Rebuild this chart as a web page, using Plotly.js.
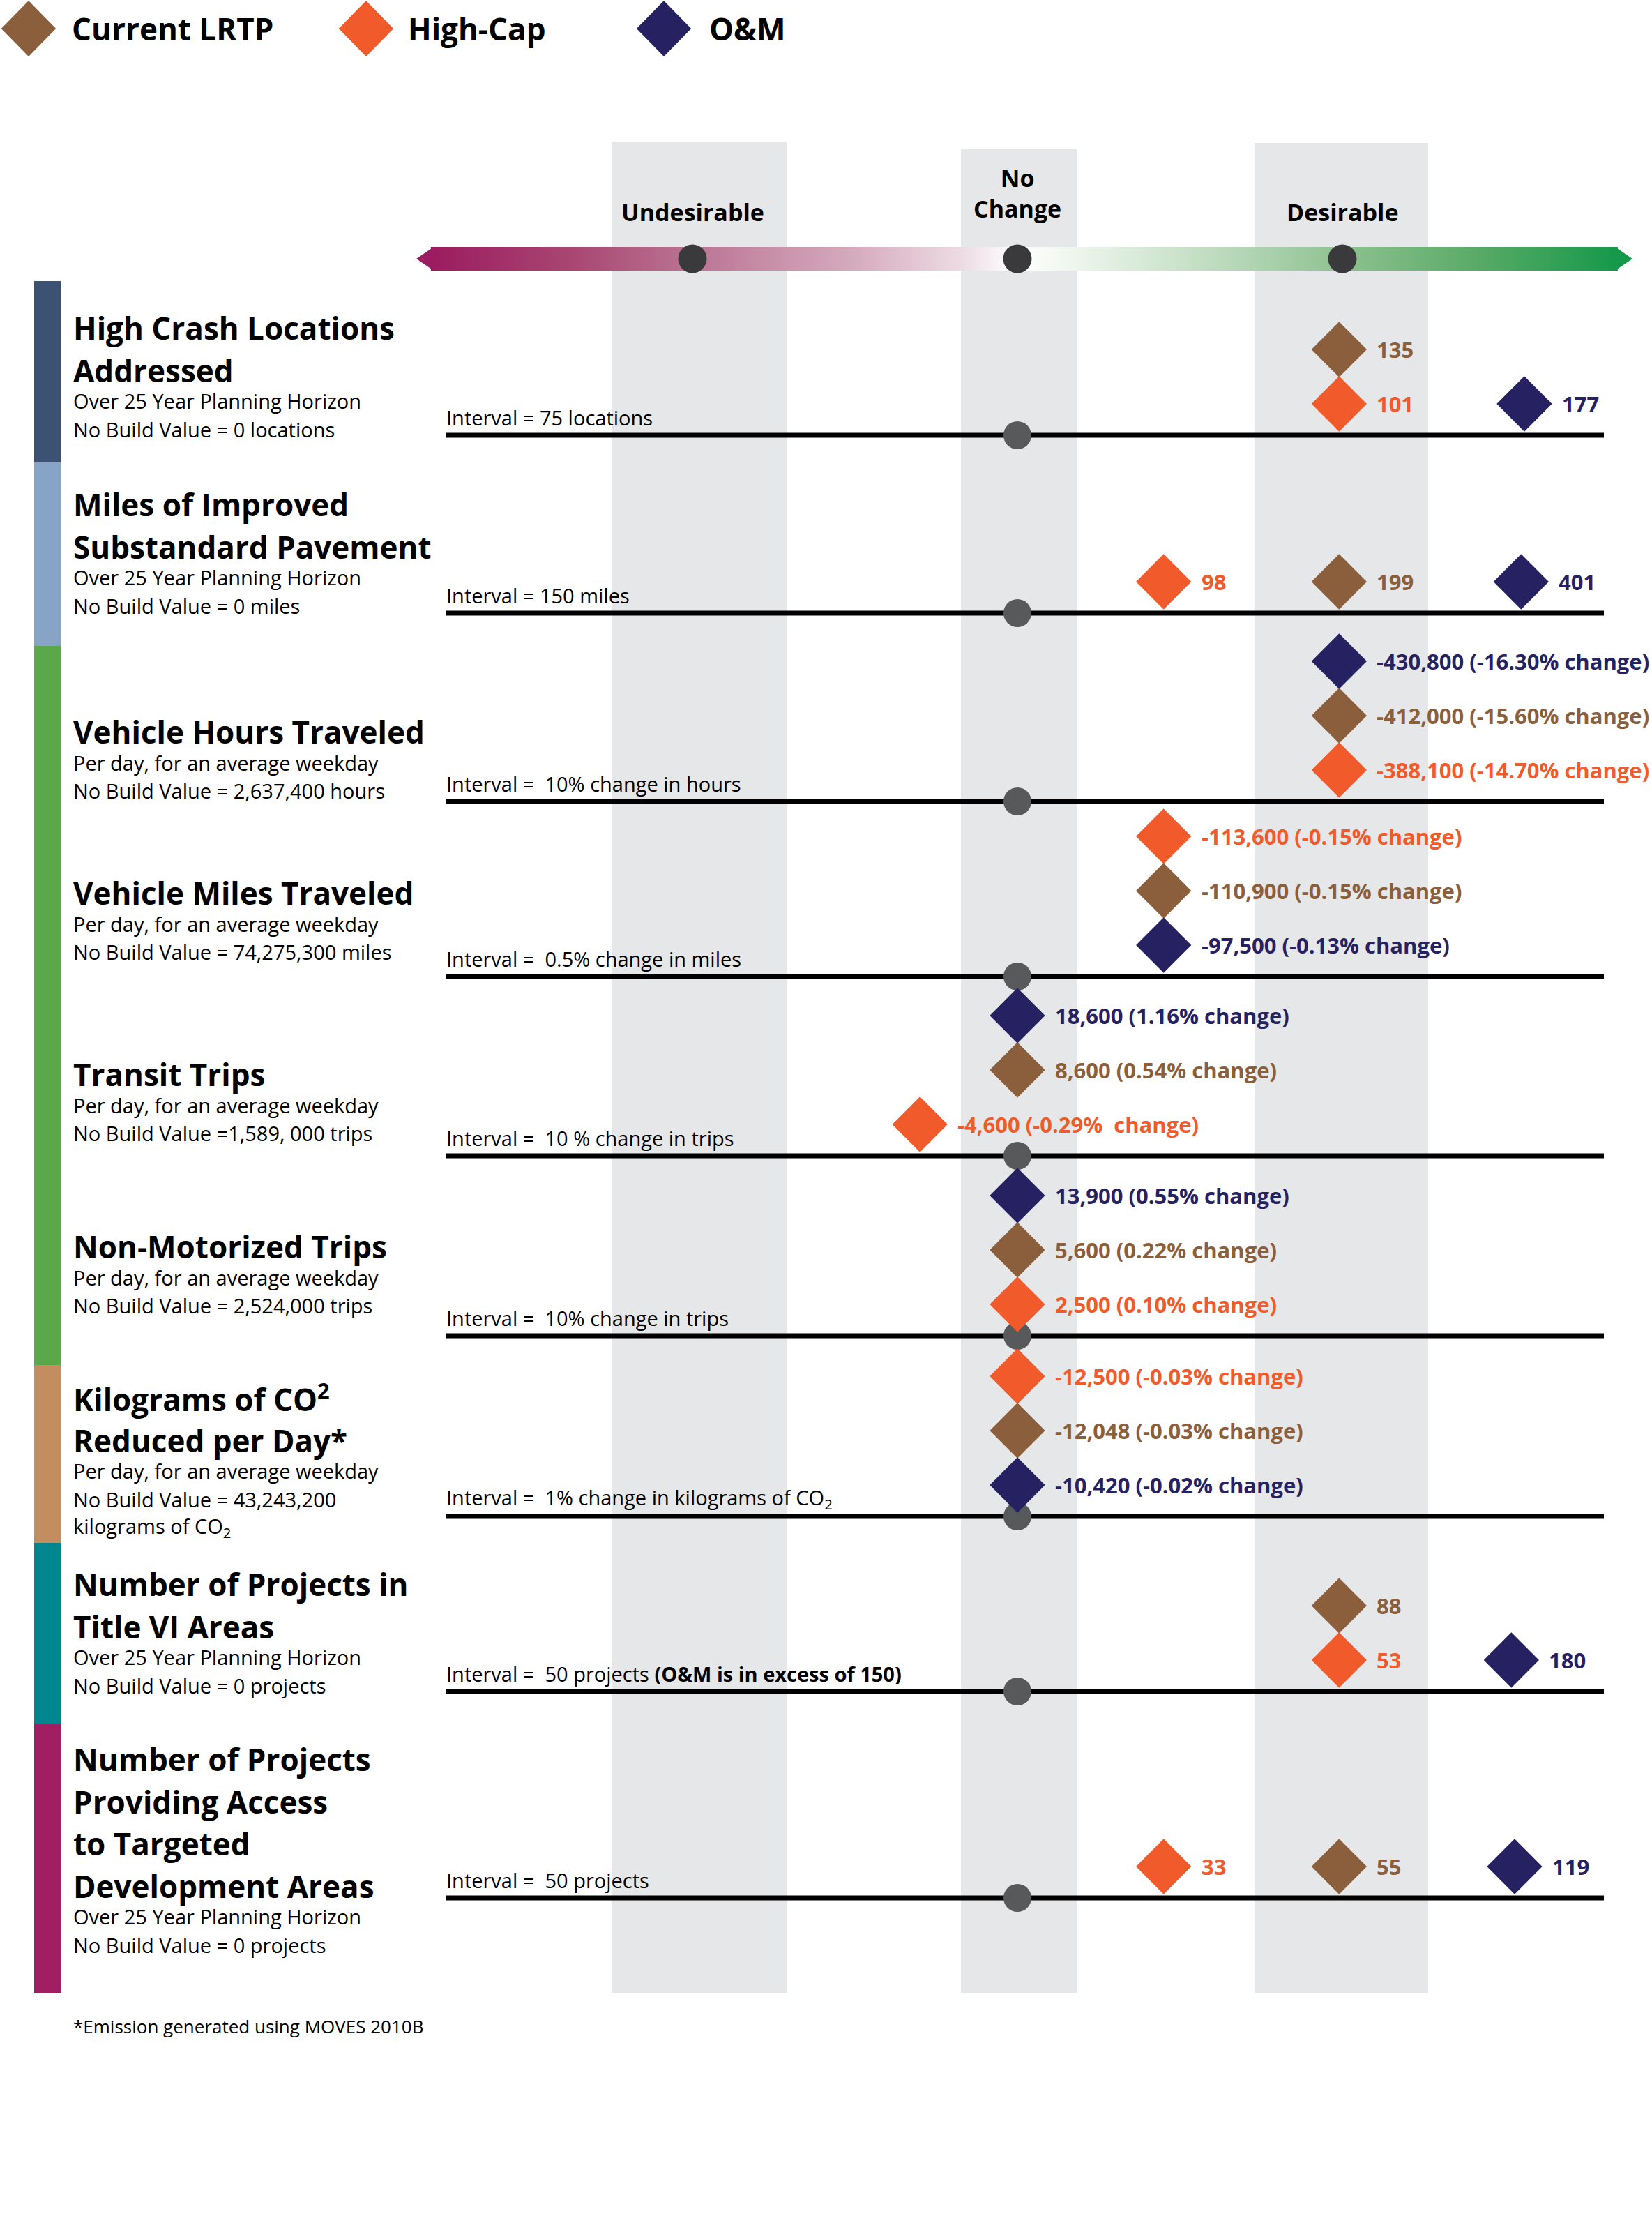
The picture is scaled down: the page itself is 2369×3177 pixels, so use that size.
<!DOCTYPE html>
<html><head><meta charset="utf-8">
<script src="https://cdn.plot.ly/plotly-3.0.1.min.js"></script>
<style>html,body{margin:0;padding:0;background:#fff}#chart{width:2369px;height:3177px}</style>
</head><body><div id="chart"></div>
<script>
// ---------------- DATA ----------------
const seriesNames = ["Current LRTP", "High-Cap", "O&amp;M"];
const categoryTitles = [
  ["High Crash Locations", "Addressed"],
  ["Miles of Improved", "Substandard Pavement"],
  ["Vehicle Hours Traveled"],
  ["Vehicle Miles Traveled"],
  ["Transit Trips"],
  ["Non-Motorized Trips"],
  ["Kilograms of CO<sup>2</sup>", "Reduced per Day*"],
  ["Number of Projects in", "Title VI Areas"],
  ["Number of Projects", "Providing Access", "to Targeted", "Development Areas"]
];
const categoryNotes = [
  ["Over 25 Year Planning Horizon", "No Build Value = 0 locations"],
  ["Over 25 Year Planning Horizon", "No Build Value = 0 miles"],
  ["Per day, for an average weekday", "No Build Value = 2,637,400 hours"],
  ["Per day, for an average weekday", "No Build Value = 74,275,300 miles"],
  ["Per day, for an average weekday", "No Build Value =1,589, 000 trips"],
  ["Per day, for an average weekday", "No Build Value = 2,524,000 trips"],
  ["Per day, for an average weekday", "No Build Value = 43,243,200", "kilograms of CO<sub>2</sub>"],
  ["Over 25 Year Planning Horizon", "No Build Value = 0 projects"],
  ["Over 25 Year Planning Horizon", "No Build Value = 0 projects"]
];
const intervalLabels = [
  "Interval = 75 locations",
  "Interval = 150 miles",
  "Interval =  10% change in hours",
  "Interval =  0.5% change in miles",
  "Interval =  10 % change in trips",
  "Interval =  10% change in trips",
  "Interval =  1% change in kilograms of CO<sub>2</sub>",
  "Interval =  50 projects <b>(O&amp;M is in excess of 150)</b>",
  "Interval =  50 projects"
];
const scaleLabels = ["Undesirable", "No<br>Change", "Desirable"];
const scaleTicks = [-1, 0, 1];
const noBuildScale = [0, 0, 0, 0, 0, 0, 0, 0, 0];

const lrtpValues = ["135", "199", "-412,000 (-15.60% change)", "-110,900 (-0.15% change)", "8,600 (0.54% change)", "5,600 (0.22% change)", "-12,048 (-0.03% change)", "88", "55"];
const highCapValues = ["101", "98", "-388,100 (-14.70% change)", "-113,600 (-0.15% change)", "-4,600 (-0.29%  change)", "2,500 (0.10% change)", "-12,500 (-0.03% change)", "53", "33"];
const omValues = ["177", "401", "-430,800 (-16.30% change)", "-97,500 (-0.13% change)", "18,600 (1.16% change)", "13,900 (0.55% change)", "-10,420 (-0.02% change)", "180", "119"];

// position on the Undesirable(-1) / No Change(0) / Desirable(+1) scale, as drawn
const lrtpScale = [0.99, 0.99, 0.99, 0.45, 0.0, 0.0, 0.0, 0.99, 0.99];
const highCapScale = [0.99, 0.45, 0.99, 0.45, -0.30, 0.0, 0.0, 0.99, 0.45];
const omScale = [1.56, 1.55, 0.99, 0.45, 0.0, 0.0, 0.0, 1.52, 1.53];

// stacking order of the diamonds in each row (0 = nearest the line)
const lrtpStack = [1, 0, 1, 1, 1, 1, 1, 1, 0];
const highCapStack = [0, 0, 0, 2, 0, 0, 2, 0, 0];
const omStack = [0, 0, 2, 0, 2, 2, 0, 0, 0];

// ---------------- LAYOUT CONSTANTS ----------------
const W = 2369, H = 3177;
const X0 = 1459, UNIT = 466;               // pixel of "No Change" and width of one scale step
const px2u = p => (p - X0) / UNIT;
const P = p => p / W;                      // pixel -> paper x
const FONT = "Open Sans, Noto Sans, sans-serif";
const colors = ["#8B5E3C", "#F15A2B", "#262262"];
const rowLineY = [624, 879, 1149, 1400, 1657, 1915, 2174, 2425, 2721];
const titleTopY = [470, 723, 1049, 1280, 1540, 1787, 2004, 2271, 2522];
const levelBase = 45, levelStep = 78;
const yFor = (r, l) => rowLineY[r] - levelBase - levelStep * l;

const shapes = [];
const annotations = [];

// gray scale columns
[[877, 1128, 203], [1378, 1544, 213], [1799, 2048, 205]].forEach(c => {
  shapes.push({type: "rect", layer: "below", xref: "paper", yref: "y", x0: P(c[0]), x1: P(c[1]), y0: c[2], y1: 2857, fillcolor: "#E6E7E8", line: {width: 0}});
});
// left colored category bars
[[403, 663, "#3B5273"], [663, 926, "#87A3C5"], [926, 1957, "#5BA84B"], [1957, 2212, "#C38D5F"], [2212, 2472, "#00868F"], [2472, 2857, "#A01F62"]].forEach(b => {
  shapes.push({type: "rect", layer: "below", xref: "paper", yref: "y", x0: P(49), x1: P(87), y0: b[0], y1: b[1], fillcolor: b[2], line: {width: 0}});
});
// row baselines
rowLineY.forEach(y => {
  shapes.push({type: "line", layer: "below", xref: "paper", yref: "y", x0: P(640), x1: P(2300), y0: y, y1: y, line: {color: "#000", width: 7}});
});
function triPath(pts){return "M" + pts.map(p => P(p[0]) + "," + p[1]).join(" L") + " Z";}
// arrow heads
shapes.push({type: "path", layer: "above", xref: "paper", yref: "y", path: triPath([[597, 371], [622, 354], [622, 388]]), fillcolor: "#9B1C60", line: {width: 0}});
shapes.push({type: "path", layer: "above", xref: "paper", yref: "y", path: triPath([[2316, 354], [2341, 371], [2316, 388]]), fillcolor: "#16994A", line: {width: 0}});

// legend
const legendX = [[41, 101], [525, 583], [952, 1015]];
seriesNames.forEach((n, i) => {
  const cx = legendX[i][0], cy = 41, r = 40;
  shapes.push({type: "path", xref: "paper", yref: "y", path: triPath([[cx, cy - r], [cx + r * 0.98, cy], [cx, cy + r], [cx - r * 0.98, cy]]), fillcolor: colors[i], line: {width: 0}});
  annotations.push({xref: "paper", yref: "y", x: P(legendX[i][1]), y: cy, xanchor: "left", yanchor: "middle", showarrow: false, text: n, font: {family: FONT, size: 44, weight: 700, color: "#000"}});
});

// scale labels
annotations.push({xref: "x", yref: "y", x: scaleTicks[0], y: 304, showarrow: false, text: scaleLabels[0], font: {family: FONT, size: 34, weight: 700, color: "#000"}});
annotations.push({xref: "x", yref: "y", x: scaleTicks[1], y: 277, showarrow: false, text: scaleLabels[1], font: {family: FONT, size: 34, weight: 700, color: "#000"}});
annotations.push({xref: "x", yref: "y", x: scaleTicks[2], y: 304, showarrow: false, text: scaleLabels[2], font: {family: FONT, size: 34, weight: 700, color: "#000"}});

// category titles and notes
categoryTitles.forEach((lines, r) => {
  let y = titleTopY[r];
  lines.forEach((t, i) => {
    y = titleTopY[r] + 60.5 * i;
    annotations.push({xref: "paper", yref: "y", x: P(103), y: y, xanchor: "left", yanchor: "middle", showarrow: false, text: t, font: {family: FONT, size: 44, weight: 700, color: "#000"}});
  });
  categoryNotes[r].forEach((t, j) => {
    annotations.push({xref: "paper", yref: "y", x: P(103), y: y + 44 + 40.5 * j, xanchor: "left", yanchor: "middle", showarrow: false, text: t, font: {family: FONT, size: 29, color: "#000"}});
  });
  annotations.push({xref: "paper", yref: "y", x: P(638), y: rowLineY[r] - 26, xanchor: "left", yanchor: "middle", showarrow: false, text: intervalLabels[r], font: {family: FONT, size: 29, color: "#000"}});
});
// footnote
annotations.push({xref: "paper", yref: "y", x: P(103), y: 2905, xanchor: "left", yanchor: "middle", showarrow: false, text: "*Emission generated using MOVES 2010B", font: {family: FONT, size: 26, color: "#000"}});

// ---------------- TRACES ----------------
const traces = [];
// gradient arrow body
const gx = [], gz = [];
const N = 400, gL = px2u(620), gR = px2u(2318);
for (let i = 0; i < N; i++) { gx.push(gL + (gR - gL) * i / (N - 1)); gz.push(i / (N - 1)); }
traces.push({type: "heatmap", x: gx, y: [362.5, 379.5], z: [gz, gz], zmin: 0, zmax: 1, showscale: false, hoverinfo: "skip",
  colorscale: [[0, "#9B1C60"], [0.12, "#A94772"], [0.22, "#BB7494"], [0.36, "#D6ADBF"], [0.45, "#EEDDE5"], [0.493, "#FFFFFF"], [0.56, "#E7F2E7"], [0.66, "#BEDCBF"], [0.77, "#8EC190"], [0.88, "#5AAB67"], [1, "#16994A"]]});
// scale ticks on the arrow
traces.push({type: "scatter", mode: "markers", x: scaleTicks, y: scaleTicks.map(() => 371), marker: {symbol: "circle", size: 41, color: "#3A3A3C"}, hoverinfo: "skip", showlegend: false});
// no-build markers on each row line
traces.push({type: "scatter", mode: "markers", x: noBuildScale, y: rowLineY, marker: {symbol: "circle", size: 40, color: "#58595B"}, hoverinfo: "skip", showlegend: false});

const series = [
  {name: seriesNames[0], values: lrtpValues, scale: lrtpScale, stack: lrtpStack, color: colors[0]},
  {name: seriesNames[1], values: highCapValues, scale: highCapScale, stack: highCapStack, color: colors[1]},
  {name: seriesNames[2], values: omValues, scale: omScale, stack: omStack, color: colors[2]}
];
series.forEach(s => {
  const ys = s.scale.map((v, r) => yFor(r, s.stack[r]));
  traces.push({type: "scatter", mode: "markers", name: s.name, x: s.scale, y: ys,
    marker: {symbol: "diamond", size: 61, color: s.color, line: {width: 0}}, hoverinfo: "skip", showlegend: false});
  s.values.forEach((v, r) => {
    annotations.push({xref: "x", yref: "y", x: s.scale[r], y: ys[r], xanchor: "left", yanchor: "middle", xshift: 52, showarrow: false,
      text: v, font: {family: FONT, size: 31, weight: 700, color: s.color}});
  });
});

const layout = {
  width: W, height: H, margin: {l: 0, r: 0, t: 0, b: 0},
  paper_bgcolor: "#fff", plot_bgcolor: "#fff", showlegend: false,
  xaxis: {range: [px2u(0), px2u(W)], visible: false, fixedrange: true},
  yaxis: {range: [H, 0], visible: false, fixedrange: true},
  shapes: shapes, annotations: annotations, font: {family: FONT}
};
Plotly.newPlot("chart", traces, layout, {staticPlot: true, displayModeBar: false});
</script>
</body></html>
